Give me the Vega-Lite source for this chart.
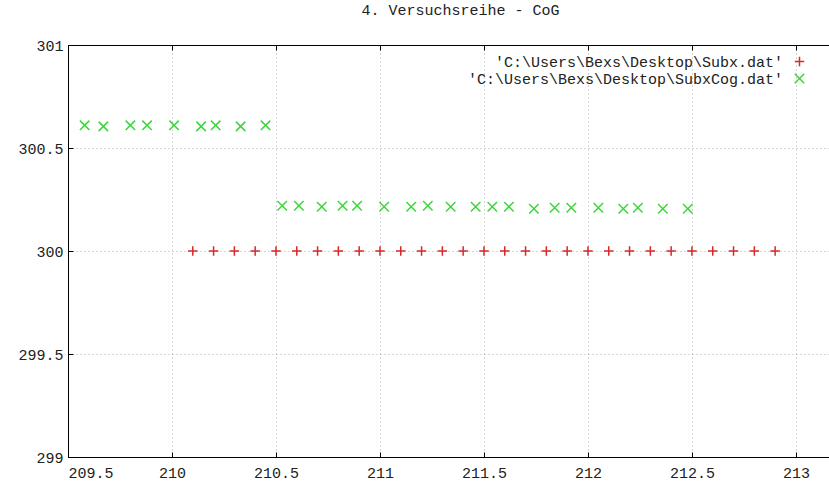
{
  "$schema": "https://vega.github.io/schema/vega-lite/v6.json",
  "autosize": {"type": "none"},
  "padding": {"left": 68, "top": 45, "right": 0, "bottom": 30},
  "width": 761,
  "height": 412,
  "background": "white",
  "title": {"text": "4. Versuchsreihe - CoG", "font": "Liberation Mono", "fontSize": 15, "fontWeight": "normal", "color": "#222", "anchor": "middle", "dx": 12, "offset": 20},
  "config": {"view": {"stroke": null}, "font": "Liberation Mono"},
  "data": {"values": [
    {"series": "'C:\\Users\\Bexs\\Desktop\\Subx.dat'", "x": 210.1, "y": 300},
    {"series": "'C:\\Users\\Bexs\\Desktop\\Subx.dat'", "x": 210.2, "y": 300},
    {"series": "'C:\\Users\\Bexs\\Desktop\\Subx.dat'", "x": 210.3, "y": 300},
    {"series": "'C:\\Users\\Bexs\\Desktop\\Subx.dat'", "x": 210.4, "y": 300},
    {"series": "'C:\\Users\\Bexs\\Desktop\\Subx.dat'", "x": 210.5, "y": 300},
    {"series": "'C:\\Users\\Bexs\\Desktop\\Subx.dat'", "x": 210.6, "y": 300},
    {"series": "'C:\\Users\\Bexs\\Desktop\\Subx.dat'", "x": 210.7, "y": 300},
    {"series": "'C:\\Users\\Bexs\\Desktop\\Subx.dat'", "x": 210.8, "y": 300},
    {"series": "'C:\\Users\\Bexs\\Desktop\\Subx.dat'", "x": 210.9, "y": 300},
    {"series": "'C:\\Users\\Bexs\\Desktop\\Subx.dat'", "x": 211.0, "y": 300},
    {"series": "'C:\\Users\\Bexs\\Desktop\\Subx.dat'", "x": 211.1, "y": 300},
    {"series": "'C:\\Users\\Bexs\\Desktop\\Subx.dat'", "x": 211.2, "y": 300},
    {"series": "'C:\\Users\\Bexs\\Desktop\\Subx.dat'", "x": 211.3, "y": 300},
    {"series": "'C:\\Users\\Bexs\\Desktop\\Subx.dat'", "x": 211.4, "y": 300},
    {"series": "'C:\\Users\\Bexs\\Desktop\\Subx.dat'", "x": 211.5, "y": 300},
    {"series": "'C:\\Users\\Bexs\\Desktop\\Subx.dat'", "x": 211.6, "y": 300},
    {"series": "'C:\\Users\\Bexs\\Desktop\\Subx.dat'", "x": 211.7, "y": 300},
    {"series": "'C:\\Users\\Bexs\\Desktop\\Subx.dat'", "x": 211.8, "y": 300},
    {"series": "'C:\\Users\\Bexs\\Desktop\\Subx.dat'", "x": 211.9, "y": 300},
    {"series": "'C:\\Users\\Bexs\\Desktop\\Subx.dat'", "x": 212.0, "y": 300},
    {"series": "'C:\\Users\\Bexs\\Desktop\\Subx.dat'", "x": 212.1, "y": 300},
    {"series": "'C:\\Users\\Bexs\\Desktop\\Subx.dat'", "x": 212.2, "y": 300},
    {"series": "'C:\\Users\\Bexs\\Desktop\\Subx.dat'", "x": 212.3, "y": 300},
    {"series": "'C:\\Users\\Bexs\\Desktop\\Subx.dat'", "x": 212.4, "y": 300},
    {"series": "'C:\\Users\\Bexs\\Desktop\\Subx.dat'", "x": 212.5, "y": 300},
    {"series": "'C:\\Users\\Bexs\\Desktop\\Subx.dat'", "x": 212.6, "y": 300},
    {"series": "'C:\\Users\\Bexs\\Desktop\\Subx.dat'", "x": 212.7, "y": 300},
    {"series": "'C:\\Users\\Bexs\\Desktop\\Subx.dat'", "x": 212.8, "y": 300},
    {"series": "'C:\\Users\\Bexs\\Desktop\\Subx.dat'", "x": 212.9, "y": 300},
    {"series": "'C:\\Users\\Bexs\\Desktop\\SubxCog.dat'", "x": 209.58, "y": 300.61},
    {"series": "'C:\\Users\\Bexs\\Desktop\\SubxCog.dat'", "x": 209.67, "y": 300.605},
    {"series": "'C:\\Users\\Bexs\\Desktop\\SubxCog.dat'", "x": 209.80, "y": 300.61},
    {"series": "'C:\\Users\\Bexs\\Desktop\\SubxCog.dat'", "x": 209.88, "y": 300.61},
    {"series": "'C:\\Users\\Bexs\\Desktop\\SubxCog.dat'", "x": 210.01, "y": 300.61},
    {"series": "'C:\\Users\\Bexs\\Desktop\\SubxCog.dat'", "x": 210.14, "y": 300.605},
    {"series": "'C:\\Users\\Bexs\\Desktop\\SubxCog.dat'", "x": 210.21, "y": 300.61},
    {"series": "'C:\\Users\\Bexs\\Desktop\\SubxCog.dat'", "x": 210.33, "y": 300.605},
    {"series": "'C:\\Users\\Bexs\\Desktop\\SubxCog.dat'", "x": 210.45, "y": 300.61},
    {"series": "'C:\\Users\\Bexs\\Desktop\\SubxCog.dat'", "x": 210.53, "y": 300.22},
    {"series": "'C:\\Users\\Bexs\\Desktop\\SubxCog.dat'", "x": 210.61, "y": 300.22},
    {"series": "'C:\\Users\\Bexs\\Desktop\\SubxCog.dat'", "x": 210.72, "y": 300.215},
    {"series": "'C:\\Users\\Bexs\\Desktop\\SubxCog.dat'", "x": 210.82, "y": 300.22},
    {"series": "'C:\\Users\\Bexs\\Desktop\\SubxCog.dat'", "x": 210.89, "y": 300.22},
    {"series": "'C:\\Users\\Bexs\\Desktop\\SubxCog.dat'", "x": 211.02, "y": 300.215},
    {"series": "'C:\\Users\\Bexs\\Desktop\\SubxCog.dat'", "x": 211.15, "y": 300.215},
    {"series": "'C:\\Users\\Bexs\\Desktop\\SubxCog.dat'", "x": 211.23, "y": 300.22},
    {"series": "'C:\\Users\\Bexs\\Desktop\\SubxCog.dat'", "x": 211.34, "y": 300.215},
    {"series": "'C:\\Users\\Bexs\\Desktop\\SubxCog.dat'", "x": 211.46, "y": 300.215},
    {"series": "'C:\\Users\\Bexs\\Desktop\\SubxCog.dat'", "x": 211.54, "y": 300.215},
    {"series": "'C:\\Users\\Bexs\\Desktop\\SubxCog.dat'", "x": 211.62, "y": 300.215},
    {"series": "'C:\\Users\\Bexs\\Desktop\\SubxCog.dat'", "x": 211.74, "y": 300.205},
    {"series": "'C:\\Users\\Bexs\\Desktop\\SubxCog.dat'", "x": 211.84, "y": 300.21},
    {"series": "'C:\\Users\\Bexs\\Desktop\\SubxCog.dat'", "x": 211.92, "y": 300.21},
    {"series": "'C:\\Users\\Bexs\\Desktop\\SubxCog.dat'", "x": 212.05, "y": 300.21},
    {"series": "'C:\\Users\\Bexs\\Desktop\\SubxCog.dat'", "x": 212.17, "y": 300.205},
    {"series": "'C:\\Users\\Bexs\\Desktop\\SubxCog.dat'", "x": 212.24, "y": 300.21},
    {"series": "'C:\\Users\\Bexs\\Desktop\\SubxCog.dat'", "x": 212.36, "y": 300.205},
    {"series": "'C:\\Users\\Bexs\\Desktop\\SubxCog.dat'", "x": 212.48, "y": 300.205}
  ]},
  "encoding": {
    "y": {"field": "y", "type": "quantitative",
      "scale": {"domain": [299, 301], "nice": false, "zero": false},
      "axis": {"values": [299, 299.5, 300, 300.5, 301], "format": ".1~f", "title": null,
        "domainColor": "#000", "domainWidth": 1, "tickColor": "#000", "tickSize": -5,
        "grid": true, "gridColor": "#aaa", "gridDash": [1, 3], "gridWidth": 1,
        "labelFont": "Liberation Mono", "labelFontSize": 15, "labelColor": "#222", "labelPadding": 10}},
    "color": {"field": "series", "type": "nominal",
      "scale": {"domain": ["'C:\\Users\\Bexs\\Desktop\\Subx.dat'", "'C:\\Users\\Bexs\\Desktop\\SubxCog.dat'"], "range": ["#d42a2a", "#3cd63c"]},
      "legend": {"orient": "none", "legendX": 724, "legendY": 9, "title": null,
        "labelFont": "Liberation Mono", "labelFontSize": 15, "labelColor": "#222",
        "labelAlign": "right", "labelOffset": -24, "labelLimit": 0,
        "symbolSize": 90, "symbolStrokeWidth": 1.5, "rowPadding": 0}},
    "shape": {"field": "series", "type": "nominal",
      "scale": {"domain": ["'C:\\Users\\Bexs\\Desktop\\Subx.dat'", "'C:\\Users\\Bexs\\Desktop\\SubxCog.dat'"], "range": ["M-1,0L1,0M0,-1L0,1", "M-1,-1L1,1M-1,1L1,-1"]}}
  },
  "layer": [
    {
      "transform": [{"filter": {"field": "series", "equal": "'C:\\Users\\Bexs\\Desktop\\Subx.dat'"}}],
      "mark": {"type": "point", "filled": false, "strokeWidth": 1.5, "size": 90, "opacity": 1},
      "encoding": {
        "x": {"field": "x", "type": "quantitative",
          "scale": {"domain": [209.5, 213.159], "nice": false, "zero": false},
          "axis": {"orient": "bottom", "values": [209.5, 210, 210.5, 211, 211.5, 212, 212.5, 213], "format": ".1~f", "title": null,
            "domainColor": "#000", "domainWidth": 1, "tickColor": "#000", "tickSize": -5,
            "grid": true, "gridColor": "#aaa", "gridDash": [1, 3], "gridWidth": 1,
            "labelFont": "Liberation Mono", "labelFontSize": 15, "labelColor": "#222", "labelPadding": 13}}
      }
    },
    {
      "transform": [{"filter": {"field": "series", "equal": "'C:\\Users\\Bexs\\Desktop\\SubxCog.dat'"}}],
      "mark": {"type": "point", "filled": false, "strokeWidth": 1.5, "size": 90, "opacity": 1},
      "encoding": {
        "x": {"field": "x", "type": "quantitative",
          "scale": {"domain": [209.5, 213.159], "nice": false, "zero": false},
          "axis": {"orient": "top", "values": [209.5, 210, 210.5, 211, 211.5, 212, 212.5, 213], "title": null,
            "labels": false, "grid": false,
            "domainColor": "#000", "domainWidth": 1, "tickColor": "#000", "tickSize": -5}}
      }
    }
  ],
  "resolve": {"axis": {"x": "independent"}}
}
